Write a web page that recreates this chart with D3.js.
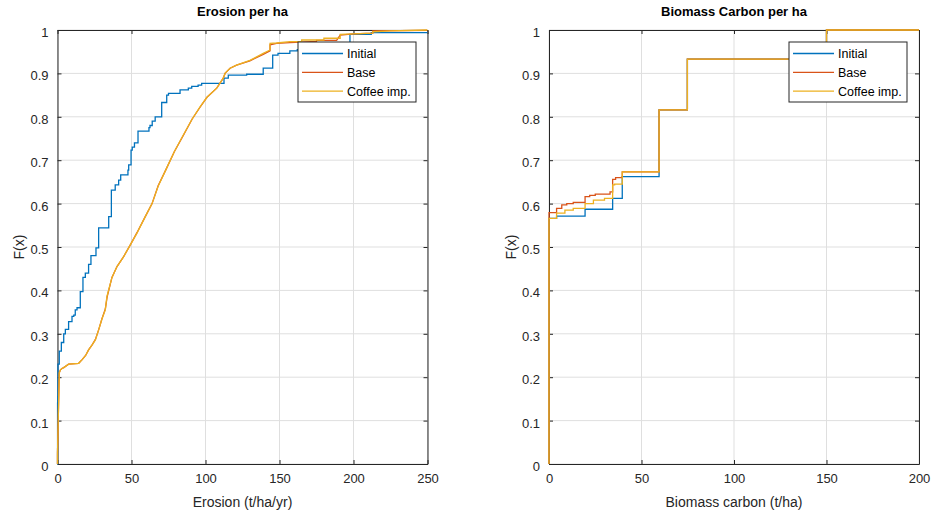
<!DOCTYPE html>
<html>
<head>
<meta charset="utf-8">
<script src="https://cdn.jsdelivr.net/npm/d3@7"></script>
<style>
    body { margin: 0; background: #fff; }
    svg { font-family: "Liberation Sans", Arial, sans-serif; }
</style>
</head>
<body>
<div id="chart"></div>
<script>
// series names and colours (MATLAB default order)
const seriesNames = ["Initial", "Base", "Coffee imp."];
const seriesColors = ["#0072BD", "#D95319", "#EDB120"];

// erosion ECDF, [x, F] stair corners
const erosionInitial = [
    [0, 0], [0.05, 0.14], [0.2, 0.155], [0.3, 0.23], [1.2, 0.26], [2.6, 0.28], [4.2, 0.30],
    [5.3, 0.31], [7.5, 0.328], [9.8, 0.34], [11, 0.343], [12, 0.355], [13.2, 0.36],
    [15.4, 0.397], [17.2, 0.43], [18.8, 0.44], [21, 0.46], [22.6, 0.48], [26, 0.498],
    [27.8, 0.544], [34.6, 0.57], [36.4, 0.631], [39, 0.643], [41.3, 0.654], [42.7, 0.666],
    [47.6, 0.677], [48.1, 0.689], [49.7, 0.723], [50.5, 0.73], [52, 0.74], [54.4, 0.767],
    [61.8, 0.775], [62.5, 0.78], [64, 0.79], [66, 0.8], [70.4, 0.833], [73.8, 0.85],
    [75, 0.854], [82.8, 0.862], [88.4, 0.866], [90.7, 0.87], [95, 0.873], [97.4, 0.877],
    [112.5, 0.889], [115.4, 0.896], [127.8, 0.898], [139, 0.912], [145.4, 0.942],
    [149, 0.946], [157, 0.952], [162, 0.955], [175, 0.962], [188, 0.97], [197.6, 0.99],
    [212, 0.994], [250, 0.994]
];
// these two are dense, so the traced outline is kept (steps included)
const erosionBase = [
    [0, 0], [0, 0.025], [1.2, 0.21], [2, 0.217], [3, 0.22], [4.2, 0.222], [7.5, 0.23],
    [14.3, 0.232], [16.5, 0.24], [19, 0.25], [21, 0.263], [23.5, 0.275], [25.6, 0.287],
    [27.8, 0.309], [30, 0.334], [32.3, 0.357], [33.6, 0.386], [36.8, 0.43], [40.2, 0.455],
    [44.7, 0.478], [49.2, 0.505], [53.7, 0.533], [59.3, 0.57], [63.9, 0.6], [68, 0.641],
    [73.5, 0.68], [79, 0.72], [85, 0.757], [91, 0.795], [96.3, 0.822], [101, 0.845],
    [107.6, 0.866], [112, 0.889], [113.2, 0.9], [116.6, 0.912], [121, 0.919], [130, 0.929],
    [139, 0.944], [143.6, 0.952], [143.6, 0.966], [148, 0.969], [157, 0.971], [175, 0.974],
    [175, 0.976], [188.6, 0.976], [191, 0.988], [200, 0.991], [213, 0.993], [213, 0.998],
    [250, 0.999]
];
const erosionCoffee = [
    [0, 0], [0, 0.025], [1.2, 0.21], [2, 0.217], [3, 0.22], [4.2, 0.222], [7.5, 0.23],
    [14.3, 0.232], [16.5, 0.24], [19, 0.25], [21, 0.263], [23.5, 0.275], [25.6, 0.286],
    [27.8, 0.309], [30, 0.334], [32.3, 0.355], [33.4, 0.386], [36.8, 0.43], [40.2, 0.455],
    [44.7, 0.478], [49.2, 0.505], [53.7, 0.532], [59.3, 0.57], [63.9, 0.6], [68, 0.64],
    [73.5, 0.68], [79, 0.72], [85, 0.758], [91, 0.795], [96.3, 0.823], [101, 0.845],
    [107.6, 0.866], [112, 0.889], [113.2, 0.9], [116.6, 0.912], [121, 0.919], [130, 0.93],
    [139, 0.946], [143.6, 0.954], [143.6, 0.969], [148, 0.97], [157, 0.973], [165, 0.973],
    [165, 0.977], [180, 0.977], [180, 0.981], [191, 0.981], [191, 0.99], [213, 0.993],
    [213, 0.996], [225, 0.998], [250, 1]
];

// biomass carbon ECDF, [x, F] after each step
const carbonInitial = [
    [0, 0], [0, 0.566], [4.1, 0.571], [19.5, 0.587], [34.4, 0.612], [39.6, 0.662],
    [59.5, 0.816], [74.8, 0.933], [150, 1], [200, 1]
];
const carbonBase = [
    [0, 0], [0, 0.579], [4.1, 0.589], [6.9, 0.597], [9.6, 0.6], [13.1, 0.603], [19.5, 0.616],
    [22, 0.619], [25, 0.622], [33, 0.627], [34.4, 0.656], [36, 0.66], [39.6, 0.673],
    [59.5, 0.816], [74.8, 0.933], [150, 1], [200, 1]
];
const carbonCoffee = [
    [0, 0], [0, 0.566], [4.1, 0.578], [8.6, 0.585], [13.1, 0.589], [19.5, 0.6], [24, 0.608],
    [30, 0.612], [34.4, 0.643], [35.5, 0.645], [39.6, 0.673], [59.5, 0.816], [74.8, 0.933],
    [150, 1], [200, 1]
];

const yTicks = [0, 0.1, 0.2, 0.3, 0.4, 0.5, 0.6, 0.7, 0.8, 0.9, 1];
const erosionTicks = [0, 50, 100, 150, 200, 250];
const carbonTicks = [0, 50, 100, 150, 200];

const panels = [
    {
        title: "Erosion per ha", xLabel: "Erosion (t/ha/yr)",
        left: 57.5, right: 427.5, xMax: 250, xTicks: erosionTicks,
        series: [erosionInitial, erosionBase, erosionCoffee],
        curves: [d3.curveStepAfter, d3.curveLinear, d3.curveLinear],
        legend: {x: 298, y: 42}, ylabelX: 24
    },
    {
        title: "Biomass Carbon per ha", xLabel: "Biomass carbon (t/ha)",
        left: 549, right: 919, xMax: 200, xTicks: carbonTicks,
        series: [carbonInitial, carbonBase, carbonCoffee],
        curves: [d3.curveStepAfter, d3.curveStepAfter, d3.curveStepAfter],
        legend: {x: 789, y: 42}, ylabelX: 516
    }
];

const plotTop = 30, plotBottom = 464;
const axisColor = "#262626";

const svg = d3.select("#chart")
    .append("svg")
    .attr("width", 933)
    .attr("height", 515);

panels.forEach((p, pi) => {
    const x = d3.scaleLinear().domain([0, p.xMax]).range([p.left, p.right]);
    const y = d3.scaleLinear().domain([0, 1]).range([plotBottom, plotTop]);
    const g = svg.append("g");

    // grid
    g.append("g").selectAll("line")
        .data(p.xTicks)
        .enter().append("line")
        .attr("x1", d => x(d)).attr("x2", d => x(d))
        .attr("y1", plotTop).attr("y2", plotBottom)
        .attr("stroke", "#dfdfdf");
    g.append("g").selectAll("line")
        .data(yTicks)
        .enter().append("line")
        .attr("x1", p.left).attr("x2", p.right)
        .attr("y1", d => y(d)).attr("y2", d => y(d))
        .attr("stroke", "#dfdfdf");

    // axes, ticks inside like matlab
    const axB = g.append("g").attr("transform", "translate(0," + plotBottom + ")")
        .call(d3.axisBottom(x).tickValues(p.xTicks).tickSizeInner(-4).tickSizeOuter(0).tickPadding(10));
    const axT = g.append("g").attr("transform", "translate(0," + plotTop + ")")
        .call(d3.axisTop(x).tickValues(p.xTicks).tickSizeInner(-4).tickSizeOuter(0).tickFormat(""));
    const axL = g.append("g").attr("transform", "translate(" + p.left + ",0)")
        .call(d3.axisLeft(y).tickValues(yTicks).tickSizeInner(-4).tickSizeOuter(0).tickPadding(9)
            .tickFormat(d => d3.format("")(d)));
    const axR = g.append("g").attr("transform", "translate(" + p.right + ",0)")
        .call(d3.axisRight(y).tickValues(yTicks).tickSizeInner(-4).tickSizeOuter(0).tickFormat(""));

    [axB, axT, axL, axR].forEach(a => {
        a.select(".domain").attr("stroke", axisColor);
        a.selectAll(".tick line").attr("stroke", axisColor);
        a.selectAll("text")
            .attr("fill", axisColor)
            .style("font-size", "13px")
            .style("font-family", "'Liberation Sans', Arial, sans-serif");
    });
    axL.selectAll("text").attr("dy", "0.5em");

    // lines go over the box, like matlab does
    const clipId = "clip" + pi;
    svg.append("clipPath").attr("id", clipId)
        .append("rect")
        .attr("x", p.left - 2).attr("y", plotTop - 2)
        .attr("width", p.right - p.left + 2).attr("height", plotBottom - plotTop + 4);

    p.series.forEach((data, i) => {
        const line = d3.line()
            .x(d => x(d[0]))
            .y(d => y(d[1]))
            .curve(p.curves[i]);
        g.append("path")
            .datum(data)
            .attr("d", line)
            .attr("clip-path", "url(#" + clipId + ")")
            .attr("fill", "none")
            .attr("stroke", seriesColors[i])
            .attr("stroke-width", 1.3);
    });

    // title and labels
    g.append("text")
        .attr("x", (p.left + p.right) / 2)
        .attr("y", 16)
        .attr("text-anchor", "middle")
        .style("font-weight", "bold")
        .style("font-size", "13px")
        .attr("fill", "#000")
        .text(p.title);
    g.append("text")
        .attr("x", (p.left + p.right) / 2)
        .attr("y", 507)
        .attr("text-anchor", "middle")
        .style("font-size", "14px")
        .attr("fill", axisColor)
        .text(p.xLabel);
    g.append("text")
        .attr("transform", "translate(" + p.ylabelX + "," + ((plotTop + plotBottom) / 2) + ") rotate(-90)")
        .attr("text-anchor", "middle")
        .style("font-size", "14px")
        .attr("fill", axisColor)
        .text("F(x)");

    // legend
    const lg = g.append("g").attr("transform", "translate(" + p.legend.x + "," + p.legend.y + ")");
    lg.append("rect")
        .attr("width", 118).attr("height", 60)
        .attr("fill", "#fff")
        .attr("stroke", axisColor);
    seriesNames.forEach((name, i) => {
        const ly = 11.5 + i * 18.8;
        lg.append("line")
            .attr("x1", 4).attr("x2", 45)
            .attr("y1", ly).attr("y2", ly)
            .attr("stroke", seriesColors[i])
            .attr("stroke-width", 1.3);
        lg.append("text")
            .attr("x", 49)
            .attr("y", ly + 4.5)
            .style("font-size", "12.5px")
            .attr("fill", "#000")
            .text(name);
    });
});
</script>
</body>
</html>
